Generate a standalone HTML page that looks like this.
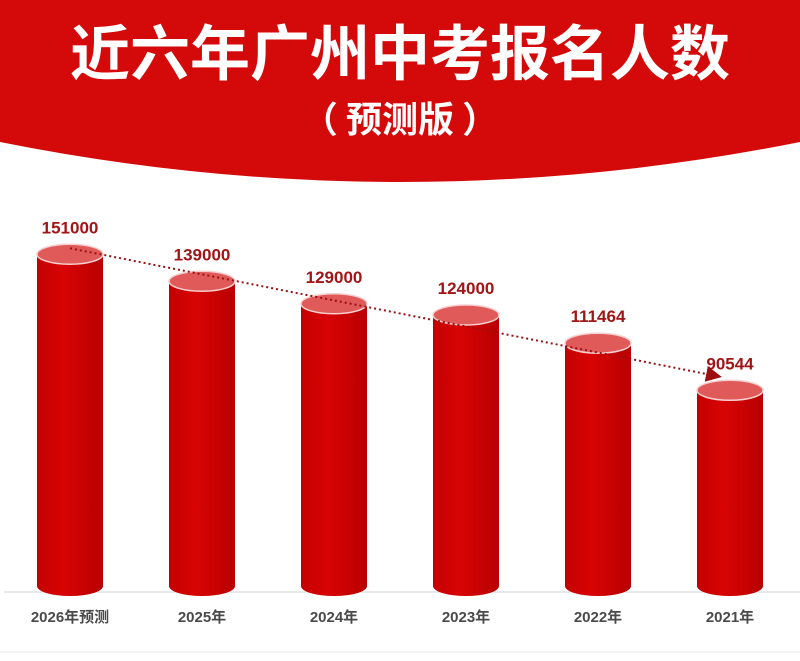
<!DOCTYPE html>
<html><head><meta charset="utf-8"><style>
html,body{margin:0;padding:0;background:#fff;}
body{width:800px;height:661px;overflow:hidden;position:relative;font-family:"Liberation Sans","Noto Sans CJK SC",sans-serif;}
svg{position:absolute;left:0;top:0;}
</style></head><body>
<svg width="800" height="661" viewBox="0 0 800 661">
<defs>
<linearGradient id="body" x1="0" x2="1" y1="0" y2="0">
<stop offset="0" stop-color="#c40000"/><stop offset="0.4" stop-color="#d80404"/><stop offset="1" stop-color="#b80000"/>
</linearGradient>
<marker id="arr" markerWidth="8" markerHeight="8" refX="6" refY="4" orient="auto"><path d="M0,0 L8,4 L0,8 z" fill="#9a1010"/></marker>
</defs>
<path d="M0,0 H800 V142 Q400,222 0,142 Z" fill="#d40a0a"/>
<text x="400" y="75" text-anchor="middle" font-size="60" font-weight="bold" fill="#fff" font-family="'Noto Sans CJK SC',sans-serif">近六年广州中考报名人数</text>
<text x="400" y="132" text-anchor="middle" font-size="36" font-weight="bold" fill="#fff" font-family="'Noto Sans CJK SC',sans-serif">（ 预测版 ）</text>
<line x1="4" y1="592" x2="800" y2="592" stroke="#e2e2e2" stroke-width="1.5"/>
<line x1="0" y1="652" x2="800" y2="652" stroke="#e8e8e8" stroke-width="1"/>
<g id="bars"></g>
</svg>
<script>
const categories = ["2026年预测","2025年","2024年","2023年","2022年","2021年"];
const values = [151000,139000,129000,124000,111464,90544];
const valueLabels = ["151000","139000","129000","124000","111464","90544"];
const g = document.getElementById('bars');
const NS = 'http://www.w3.org/2000/svg';
function xScale(i){ return 70 + i*132; }
function yScale(v){ return 594 - v*0.00225; }
function mk(tag, attrs){ const e=document.createElementNS(NS,tag); for(const k in attrs) e.setAttribute(k,attrs[k]); g.appendChild(e); return e; }
const W=66, ry=10, base=586;
values.forEach((v,i)=>{
  const cx=xScale(i), top=yScale(v);
  const b=mk('path',{d:`M${cx-W/2},${top} V${base} A${W/2},${ry} 0 0 0 ${cx+W/2},${base} V${top} Z`,fill:'url(#body)'});
  
  
  const t=mk('ellipse',{cx:cx,cy:top,rx:W/2,ry:ry,fill:'#e05a5a',stroke:'#f6d0d0','stroke-width':1.5});
  
  
  const l=mk('text',{x:cx,y:top-21,'text-anchor':'middle','font-size':17,'font-weight':'bold',fill:'#a01515'});
  l.textContent=valueLabels[i];
  
  
  const c=mk('text',{x:cx,y:622,'text-anchor':'middle','font-size':15,'font-weight':'bold',fill:'#4a4a4a'});
  c.textContent=categories[i];
  
  
});
const n=values.length-1;
const tl=mk('line',{x1:xScale(0),y1:yScale(values[0])-6,x2:xScale(n)-12,y2:yScale(values[n])-14,stroke:'#9a1010','stroke-width':2,'stroke-dasharray':'2 3','marker-end':'url(#arr)'});


</script>
</body></html>
